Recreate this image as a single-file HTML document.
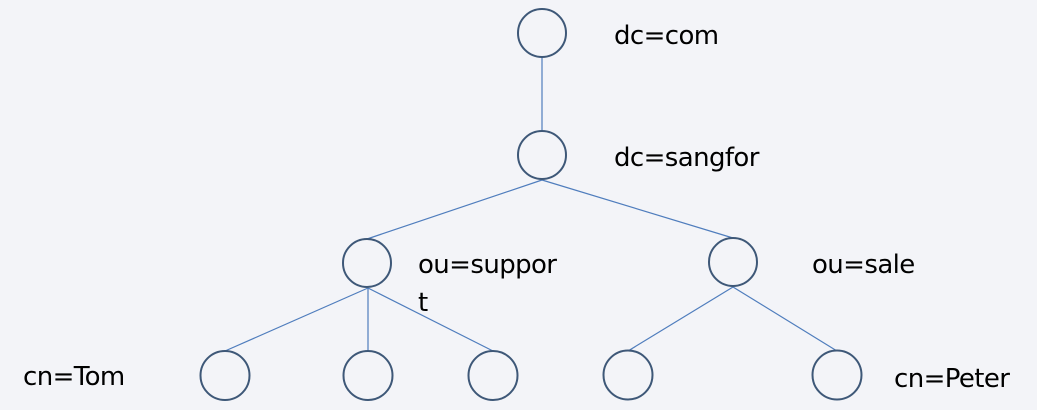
<!DOCTYPE html>
<html><head><meta charset="utf-8"><style>
html,body{margin:0;padding:0;background:#f3f4f8;}
svg{display:block;}
text{font-family:"DejaVu Sans","Liberation Sans",sans-serif;font-size:26px;fill:#000;letter-spacing:-0.6px;}
</style></head><body>
<svg width="1037" height="410" viewBox="0 0 1037 410">
<rect width="1037" height="410" fill="#f3f4f8"/>
<g stroke="#4f7dbd" stroke-width="1.2" fill="none">
<line x1="542" y1="57" x2="542" y2="131"/>
<line x1="542" y1="180" x2="367" y2="239"/>
<line x1="542" y1="180" x2="733" y2="238"/>
<line x1="368" y1="288" x2="225" y2="351"/>
<line x1="368" y1="288" x2="368" y2="351"/>
<line x1="368" y1="288" x2="493" y2="351"/>
<line x1="733" y1="287" x2="628" y2="351"/>
<line x1="733" y1="287" x2="837" y2="351"/>
</g>
<g stroke="#3e5878" stroke-width="2" fill="none">
<circle cx="542" cy="33" r="24"/>
<circle cx="542" cy="155" r="24"/>
<circle cx="367" cy="263" r="24"/>
<circle cx="733" cy="262" r="24"/>
<circle cx="225" cy="375.5" r="24.5"/>
<circle cx="368" cy="375.5" r="24.5"/>
<circle cx="493" cy="375.5" r="24.5"/>
<circle cx="628" cy="375" r="24.5"/>
<circle cx="837" cy="375" r="24.5"/>
</g>
<text x="614" y="44">dc=com</text>
<text x="614" y="166">dc=sangfor</text>
<text x="418" y="273">ou=suppor</text>
<text x="418" y="311">t</text>
<text x="812" y="273">ou=sale</text>
<text x="23" y="385">cn=Tom</text>
<text x="894" y="387">cn=Peter</text>
</svg>
</body></html>
